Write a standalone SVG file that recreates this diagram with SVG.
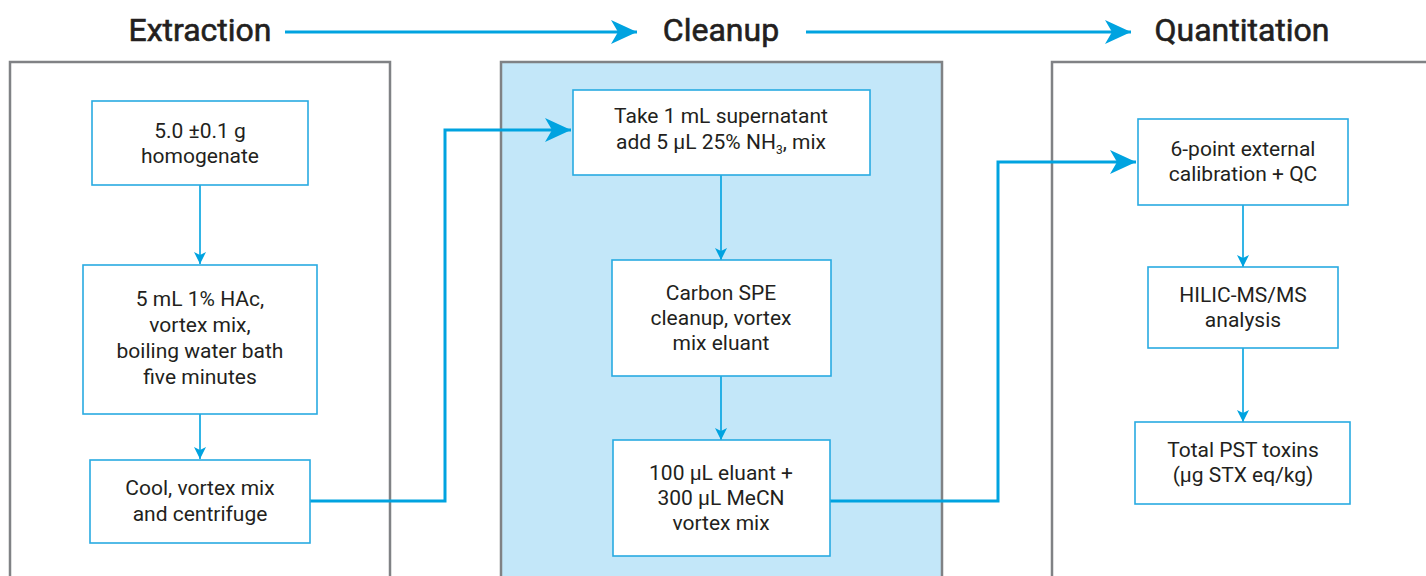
<svg xmlns="http://www.w3.org/2000/svg" width="1426" height="576" viewBox="0 0 1426 576">
<defs>
<style>
.hdr{font-family:Roboto,"Liberation Sans",sans-serif;font-weight:400;font-size:32px;fill:#231f20;stroke:#231f20;stroke-width:0.6;text-anchor:middle}
.panel{stroke:#808285;stroke-width:2.5}
.box{fill:#fff;stroke:#29abe2;stroke-width:1.6}
.t{font-family:Roboto,"Liberation Sans",sans-serif;font-size:21px;fill:#231f20;text-anchor:middle}
.thin{fill:none;stroke:#00a3e0;stroke-width:1.6}
.thick{fill:none;stroke:#00a3e0;stroke-width:3}
</style>
<marker id="small" viewBox="0 0 12 14" refX="12" refY="7" markerWidth="12" markerHeight="14" markerUnits="userSpaceOnUse" orient="auto">
<path d="M0,1 L12,7 L0,13 L3,7 Z" fill="#00a3e0"/>
</marker>
<marker id="big" viewBox="0 0 26 24" refX="26" refY="12" markerWidth="26" markerHeight="24" markerUnits="userSpaceOnUse" orient="auto">
<path d="M0,0 L26,12 L0,24 L7,12 Z" fill="#00a3e0"/>
</marker>
</defs>
<rect width="1426" height="576" fill="#fff"/>

<g id="headers">
<text class="hdr" x="200" y="41">Extraction</text>
<text class="hdr" x="721" y="41">Cleanup</text>
<text class="hdr" x="1242" y="41">Quantitation</text>
</g>

<g id="panels">
<rect id="panel-extraction" class="panel" x="10" y="62" width="380" height="530" fill="#fff"/>
<rect id="panel-cleanup" class="panel" x="501" y="62" width="441" height="530" fill="#c3e7f9"/>
<rect id="panel-quantitation" class="panel" x="1052" y="62" width="400" height="530" fill="#fff"/>
</g>

<g id="connectors">
<line class="thick" x1="285" y1="32" x2="637" y2="32" marker-end="url(#big)"/>
<line class="thick" x1="806" y1="32" x2="1131" y2="32" marker-end="url(#big)"/>
<line class="thin" x1="200" y1="185" x2="200" y2="264" marker-end="url(#small)"/>
<line class="thin" x1="200" y1="414" x2="200" y2="459" marker-end="url(#small)"/>
<polyline class="thick" points="310,501 445,501 445,130 571,130" marker-end="url(#big)"/>
<line class="thin" x1="721" y1="175" x2="721" y2="260" marker-end="url(#small)"/>
<line class="thin" x1="721" y1="376" x2="721" y2="440" marker-end="url(#small)"/>
<polyline class="thick" points="830,501 998,501 998,162 1136,162" marker-end="url(#big)"/>
<line class="thin" x1="1243" y1="205" x2="1243" y2="267" marker-end="url(#small)"/>
<line class="thin" x1="1243" y1="348" x2="1243" y2="422" marker-end="url(#small)"/>
</g>

<g id="n1"><rect class="box" x="92" y="101" width="216" height="84"/>
<text class="t" x="200" y="138">5.0 ±0.1 g</text><text class="t" x="200" y="163">homogenate</text></g>

<g id="n2"><rect class="box" x="83" y="265" width="234" height="149"/>
<text class="t" x="200" y="306">5 mL 1% HAc,</text><text class="t" x="200" y="332">vortex mix,</text>
<text class="t" x="200" y="358">boiling water bath</text><text class="t" x="200" y="384">five minutes</text></g>

<g id="n3"><rect class="box" x="90" y="460" width="220" height="83"/>
<text class="t" x="200" y="495">Cool, vortex mix</text><text class="t" x="200" y="521">and centrifuge</text></g>

<g id="n4"><rect class="box" x="573" y="90" width="297" height="85"/>
<text class="t" x="721" y="123">Take 1 mL supernatant</text>
<text class="t" x="721" y="149">add 5 µL 25% NH<tspan font-size="12" dy="5">3</tspan><tspan dy="-5">, mix</tspan></text></g>

<g id="n5"><rect class="box" x="612" y="260" width="219" height="116"/>
<text class="t" x="721" y="300">Carbon SPE</text><text class="t" x="721" y="325">cleanup, vortex</text><text class="t" x="721" y="350">mix eluant</text></g>

<g id="n6"><rect class="box" x="613" y="440" width="217" height="116"/>
<text class="t" x="721" y="480">100 µL eluant +</text><text class="t" x="721" y="505">300 µL MeCN</text><text class="t" x="721" y="530">vortex mix</text></g>

<g id="n7"><rect class="box" x="1138" y="119" width="210" height="86"/>
<text class="t" x="1243" y="156">6-point external</text><text class="t" x="1243" y="181">calibration + QC</text></g>

<g id="n8"><rect class="box" x="1148" y="267" width="190" height="81"/>
<text class="t" x="1243" y="302">HILIC-MS/MS</text><text class="t" x="1243" y="327">analysis</text></g>

<g id="n9"><rect class="box" x="1135" y="422" width="215" height="82"/>
<text class="t" x="1243" y="457">Total PST toxins</text><text class="t" x="1243" y="482">(µg STX eq/kg)</text></g>
</svg>
